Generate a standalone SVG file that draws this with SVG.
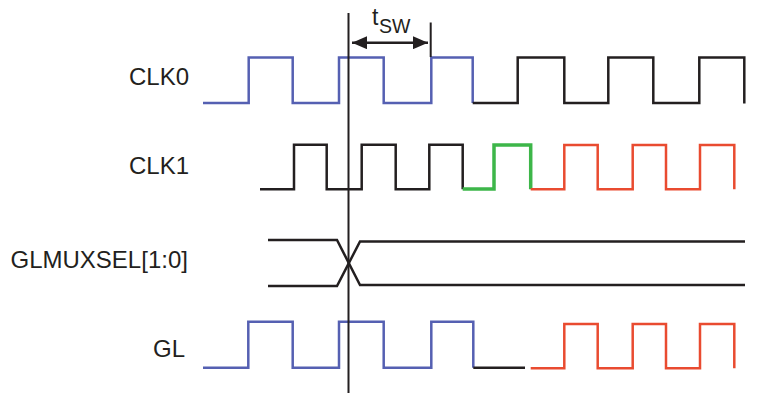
<svg xmlns="http://www.w3.org/2000/svg" width="765" height="393" viewBox="0 0 765 393">
<style>
.sig{fill:none;stroke-width:2.5;stroke-linejoin:miter;stroke-linecap:butt}
.blue{stroke:#5560b2}
.blk{stroke:#231f20}
.red{stroke:#e94b30}
.grn{stroke:#3db649;stroke-width:3.5}
.lbl{font-family:"Liberation Sans",Arial,sans-serif;font-size:24px;fill:#231f20}
</style>
<defs>
<marker id="ah" viewBox="0 0 15 13" refX="15" refY="6.5" markerWidth="15" markerHeight="13" markerUnits="userSpaceOnUse" orient="auto-start-reverse">
<path d="M0,0 L15,6.5 L0,13 Z" fill="#231f20"/>
</marker>
</defs>
<rect width="765" height="393" fill="#ffffff"/>
<g id="labels">
<text id="lbl-clk0" class="lbl" x="129" y="85">CLK0</text>
<text id="lbl-clk1" class="lbl" x="129" y="174">CLK1</text>
<text id="lbl-glmuxsel" class="lbl" x="10.5" y="268">GLMUXSEL[1:0]</text>
<text id="lbl-gl" class="lbl" x="153" y="357">GL</text>
</g>
<g id="clk0">
<path class="sig blue" d="M203,103 H248.7 V57.5 H292.7 V103 H339 V57.5 H383.7 V103 H431.3 V57.5 H472.7 V103"/>
<path class="sig blk" d="M472.7,103 H517.7 V57.5 H564.3 V103 H608.3 V57.5 H653.3 V103 H699.3 V57.5 H744.3 V103.5"/>
</g>
<g id="clk1">
<path class="sig blk" d="M260,189.3 H294 V144.7 H326.7 V189.3 H361.7 V144.7 H395.7 V189.3 H429.3 V144.7 H462.7 V189.3"/>
<path class="sig grn" d="M462.7,189 H494 V145 H530.7 V189.3"/>
<path class="sig red" d="M530.7,189.3 H564.3 V145 H597.7 V189.3 H632.7 V145 H666 V189.3 H700 V145 H734.3 V189.3"/>
</g>
<g id="glmuxsel">
<path class="sig blk" d="M268,240 H337 L360,285 H745"/>
<path class="sig blk" d="M268,286 H337 L360,241.5 H745"/>
</g>
<g id="gl">
<path class="sig blue" d="M203,367.7 H248.3 V321.7 H292.7 V367.7 H339 V321.7 H383.7 V367.7 H431.3 V321.7 H473.3 V367.7"/>
<path class="sig blk" d="M473.3,367.7 H525"/>
<path class="sig red" d="M530.7,368.3 H564.3 V324 H597.7 V368.3 H632.7 V324 H666 V368.3 H700 V324 H734.3 V368.3"/>
</g>
<g id="connectors">
<line id="switch-line" x1="348.5" y1="13" x2="348.5" y2="393" stroke="#231f20" stroke-width="2"/>
<line id="tsw-tick" x1="430.7" y1="22.5" x2="430.7" y2="57" stroke="#231f20" stroke-width="2"/>
<line id="tsw-arrow" x1="352" y1="42.7" x2="428" y2="42.7" stroke="#231f20" stroke-width="2.5" marker-start="url(#ah)" marker-end="url(#ah)"/>
</g>
<g id="tsw-label">
<text font-family="'Liberation Sans',Arial,sans-serif" fill="#231f20"><tspan x="372" y="25" font-size="23">t</tspan><tspan x="379" y="33" font-size="19.5">SW</tspan></text>
</g>
</svg>
